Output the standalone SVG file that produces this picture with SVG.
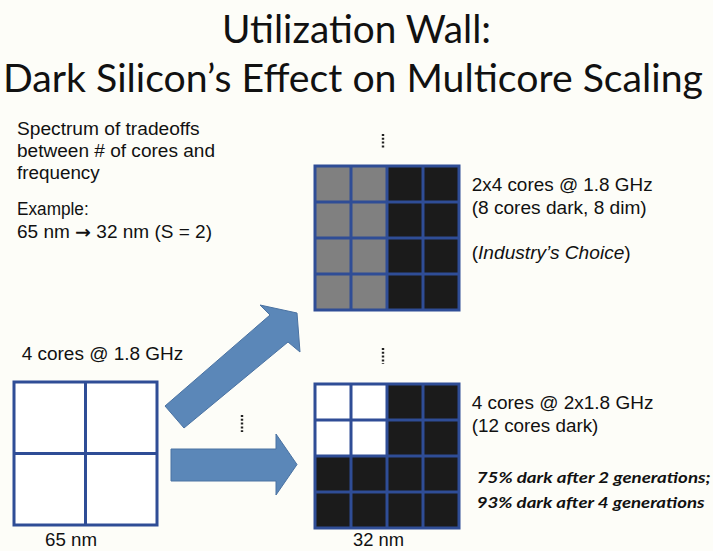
<svg xmlns="http://www.w3.org/2000/svg" width="713" height="551" viewBox="0 0 713 551">
<style>
.title{font-family:Lato,"Open Sans","Liberation Sans",sans-serif;font-size:38px;fill:#111;text-anchor:middle}
.t{font-family:"Liberation Sans",Arial,sans-serif;font-size:17.5px;fill:#111}
.bi{font-family:Lato,"Open Sans","Liberation Sans",sans-serif;font-size:15px;font-weight:bold;font-style:italic;fill:#111}
.grid{fill:none;stroke:#2f4d96;stroke-width:3}
.gray{fill:#808080}
.dark{fill:#1b1b1b}
.white{fill:#ffffff}
.arrow{fill:#5b87b8;stroke:#4a72a2;stroke-width:1}
.dots{stroke:#222;stroke-width:2.4;stroke-dasharray:2 1.8}
</style>
<rect width="713" height="551" fill="#fdfdf8"/>
<g id="title">
<text class="title" x="356.5" y="43" textLength="269" lengthAdjust="spacingAndGlyphs">Utilization Wall:</text>
<text class="title" x="353" y="92" textLength="700" lengthAdjust="spacingAndGlyphs">Dark Silicon’s Effect on Multicore Scaling</text>
</g>
<g id="intro">
<text class="t" x="17" y="135" textLength="182.7" lengthAdjust="spacingAndGlyphs">Spectrum of tradeoffs</text>
<text class="t" x="17" y="157" textLength="198" lengthAdjust="spacingAndGlyphs">between # of cores and</text>
<text class="t" x="17" y="179" textLength="82.7" lengthAdjust="spacingAndGlyphs">frequency</text>
<text class="t" x="17" y="215" textLength="71.7" lengthAdjust="spacingAndGlyphs">Example:</text>
<text class="t" x="17" y="238" textLength="195" lengthAdjust="spacingAndGlyphs">65 nm <tspan font-family="'DejaVu Sans',sans-serif" font-weight="bold">→</tspan> 32 nm (S = 2)</text>
</g>
<g id="chip65">
<text class="t" x="21.7" y="360" textLength="161.6" lengthAdjust="spacingAndGlyphs">4 cores @ 1.8 GHz</text>
<rect x="14" y="382" width="143" height="143" class="white"/>
<rect x="14" y="382" width="143" height="143" class="grid"/>
<line x1="85.5" y1="382" x2="85.5" y2="525" class="grid"/>
<line x1="14" y1="453.5" x2="157" y2="453.5" class="grid"/>
<text class="t" x="45" y="546" textLength="52" lengthAdjust="spacingAndGlyphs">65 nm</text>
</g>
<g id="chipTop">
<line x1="383" y1="134" x2="383" y2="149" class="dots"/>
<rect x="315" y="166" width="72" height="144" class="gray"/>
<rect x="387" y="166" width="72" height="144" class="dark"/>
<rect x="315" y="166" width="144" height="144" class="grid"/>
<path d="M351 166V310M387 166V310M423 166V310M315 202H459M315 238H459M315 274H459" class="grid"/>
<text class="t" x="471.7" y="191" textLength="181" lengthAdjust="spacingAndGlyphs">2x4 cores @ 1.8 GHz</text>
<text class="t" x="471.7" y="214" textLength="175" lengthAdjust="spacingAndGlyphs">(8 cores dark, 8 dim)</text>
<text class="t" x="471.7" y="259" textLength="159" lengthAdjust="spacingAndGlyphs">(<tspan font-style="italic">Industry’s Choice</tspan>)</text>
</g>
<g id="chipBottom">
<line x1="383" y1="348" x2="383" y2="364" class="dots"/>
<rect x="315" y="384" width="144" height="144" class="dark"/>
<rect x="315" y="384" width="72" height="72" class="white"/>
<rect x="315" y="384" width="144" height="144" class="grid"/>
<path d="M351 384V528M387 384V528M423 384V528M315 420H459M315 456H459M315 492H459" class="grid"/>
<text class="t" x="471.7" y="409" textLength="181.7" lengthAdjust="spacingAndGlyphs">4 cores @ 2x1.8 GHz</text>
<text class="t" x="471.7" y="432" textLength="126.7" lengthAdjust="spacingAndGlyphs">(12 cores dark)</text>
<text class="bi" x="476.7" y="483" textLength="234" lengthAdjust="spacingAndGlyphs">75% dark after 2 generations;</text>
<text class="bi" x="476.7" y="508" textLength="228" lengthAdjust="spacingAndGlyphs">93% dark after 4 generations</text>
<text class="t" x="353" y="546" textLength="51" lengthAdjust="spacingAndGlyphs">32 nm</text>
</g>
<g id="connectors">
<polygon class="arrow" points="165,406 270,315 260,305 297,313 300,352 288,342 184,428"/>
<polygon class="arrow" points="171,449 276,449 276,434 297,464.5 276,495 276,481 171,481"/>
<line x1="242" y1="415" x2="242" y2="432" class="dots"/>
</g>
</svg>
